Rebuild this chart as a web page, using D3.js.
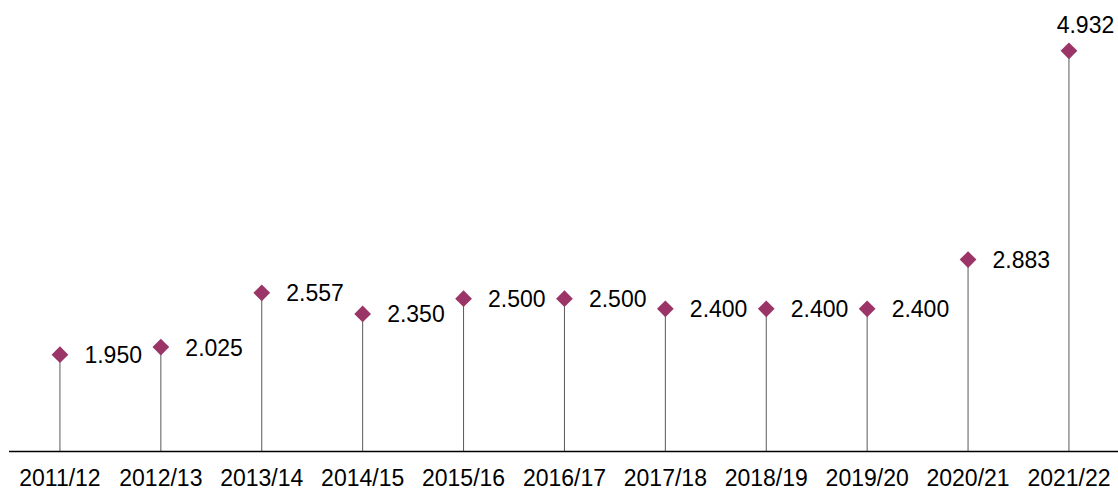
<!DOCTYPE html>
<html><head><meta charset="utf-8">
<script src="https://cdn.jsdelivr.net/npm/d3@7"></script>
<style>body{margin:0;background:#fff}svg{display:block}</style>
</head><body>
<svg id="c" width="1118" height="489"></svg>
<script>
const categories = ["2011/12","2012/13","2013/14","2014/15","2015/16","2016/17","2017/18","2018/19","2019/20","2020/21","2021/22"];
const values = [1.950,2.025,2.557,2.350,2.500,2.500,2.400,2.400,2.400,2.883,4.932];
const labels = ["1.950","2.025","2.557","2.350","2.500","2.500","2.400","2.400","2.400","2.883","4.932"];

const svg = d3.select("#c");
const font = "'Liberation Sans', Arial, sans-serif";
const x = d3.scaleBand().domain(categories).range([9.5, 1119.4]);
const y = d3.scaleLinear().domain([1, 5]).range([451.5, 451.5 - 4*101.9]);
const cx = d => x(d) + x.bandwidth()/2;

const g = svg.append("g");
g.selectAll("line.drop").data(categories).join("line")
  .attr("x1", d => cx(d)).attr("x2", d => cx(d))
  .attr("y1", (d,i) => y(values[i])).attr("y2", y(1))
  .attr("stroke", "#595959").attr("stroke-width", 1);

const xAxis = d3.axisBottom(x).tickSize(0).tickPadding(18.5);
const ax = svg.append("g").attr("transform", `translate(0,${y(1)})`).call(xAxis);
ax.select(".domain").attr("stroke", "#000").attr("stroke-width", 1.3).attr("d", "M9,0H1118");
ax.selectAll("text").attr("font-family", font).attr("font-size", 23).attr("fill", "#000");

const sym = d3.symbol().type(d3.symbolSquare).size(140);
g.selectAll("path.mk").data(categories).join("path")
  .attr("d", sym)
  .attr("transform", (d,i) => `translate(${cx(d)},${y(values[i])}) rotate(45)`)
  .attr("fill", "#9b3467");

g.selectAll("text.lbl").data(categories).join("text")
  .attr("font-family", font).attr("font-size", 23).attr("fill", "#000")
  .attr("x", (d,i) => i === categories.length-1 ? cx(d) + 16.5 : cx(d) + 24.5)
  .attr("y", (d,i) => i === categories.length-1 ? y(values[i]) - 18 : y(values[i]) + 8.5)
  .attr("text-anchor", (d,i) => i === categories.length-1 ? "middle" : "start")
  .text((d,i) => labels[i]);
</script>
</body></html>
